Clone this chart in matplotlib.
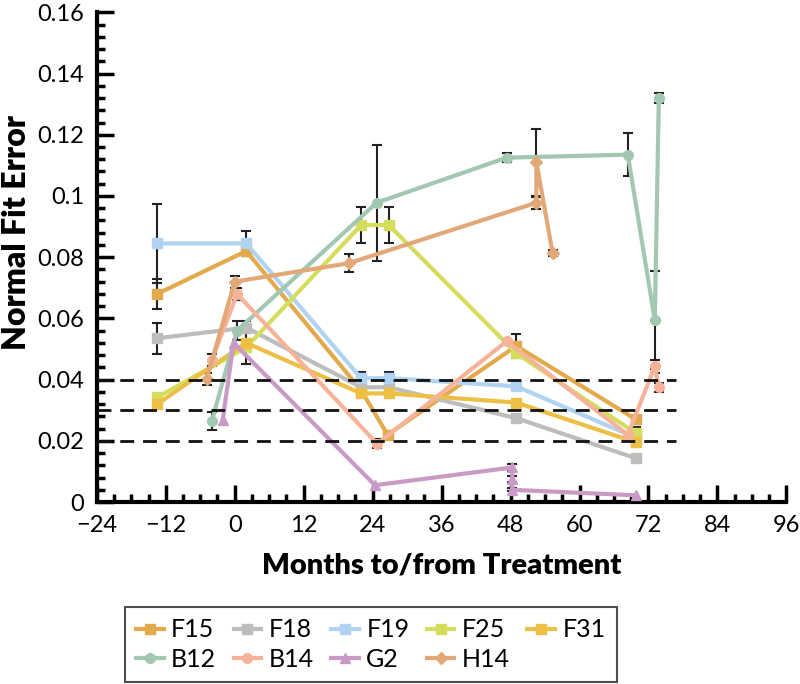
import numpy as np
import matplotlib
matplotlib.use('Agg')
import matplotlib.pyplot as plt
from matplotlib.ticker import MultipleLocator

plt.rcParams['font.family'] = ['Lato', 'DejaVu Sans']

# months to/from treatment, fit error, error bar half-width (0 = none)
f15_x = [-13.5, 2, 22, 26.6, 49, 69.8]
f15_y = [0.068, 0.082, 0.0365, 0.022, 0.051, 0.027]
f15_e = [0.005, 0, 0, 0, 0.004, 0]

f18_x = [-13.5, 2, 22, 26.8, 49, 69.8]
f18_y = [0.0535, 0.057, 0.0375, 0.0375, 0.0274, 0.0143]
f18_e = [0.005, 0, 0.002, 0.002, 0, 0]

f19_x = [-13.5, 2, 22, 26.8, 49, 69.8]
f19_y = [0.0845, 0.0845, 0.0404, 0.0405, 0.0378, 0.021]
f19_e = [0.013, 0.004, 0.002, 0.002, 0, 0]

f25_x = [-13.5, 2, 22, 26.8, 49, 69.8]
f25_y = [0.0342, 0.0505, 0.0905, 0.0905, 0.0486, 0.0225]
f25_e = [0, 0, 0.006, 0.006, 0, 0.002]

f31_x = [-13.5, 2, 22, 26.8, 49, 69.8]
f31_y = [0.032, 0.052, 0.0355, 0.0355, 0.0325, 0.0195]
f31_e = [0, 0.007, 0, 0, 0, 0]

b12_x = [-4.0, 0.4, 24.7, 47.3, 68.4, 73.1, 73.8]
b12_y = [0.0264, 0.056, 0.0978, 0.1125, 0.1135, 0.0594, 0.132]
b12_e = [0.003, 0.003, 0.019, 0.0015, 0.007, 0.016, 0.0015]

b14_x = [-4.0, 0.4, 24.8, 47.3, 68.4, 73.1, 73.8]
b14_y = [0.0463, 0.068, 0.019, 0.0525, 0.022, 0.0443, 0.0375]
b14_e = [0.002, 0.002, 0.0015, 0, 0, 0.002, 0.0015]

g2_x = [-2.1, -0.2, 24.4, 48.3, 48.3, 48.3, 69.8]
g2_y = [0.0267, 0.052, 0.0055, 0.0113, 0.0075, 0.004, 0.0022]
g2_e = [0, 0, 0, 0.001, 0.001, 0.0005, 0]

h14_x = [-4.9, 0, 19.8, 52.5, 52.5, 55.3]
h14_y = [0.0401, 0.072, 0.078, 0.0978, 0.111, 0.0815]
h14_e = [0.002, 0.002, 0.003, 0.002, 0.011, 0.001]

thresholds = [0.02, 0.03, 0.04]

series = [
    ('F15', f15_x, f15_y, f15_e, '#E2AA4C', 's'),
    ('F18', f18_x, f18_y, f18_e, '#BDBDBD', 's'),
    ('F19', f19_x, f19_y, f19_e, '#AFD3F0', 's'),
    ('F25', f25_x, f25_y, f25_e, '#D5DE5C', 's'),
    ('F31', f31_x, f31_y, f31_e, '#EEBF45', 's'),
    ('B12', b12_x, b12_y, b12_e, '#A3C8B2', 'o'),
    ('B14', b14_x, b14_y, b14_e, '#F7B29A', 'o'),
    ('G2', g2_x, g2_y, g2_e, '#C99AC6', '^'),
    ('H14', h14_x, h14_y, h14_e, '#E3A877', 'D'),
]

fig = plt.figure(figsize=(8, 6.84), dpi=100)
ax = fig.add_axes([0.121, 0.266, 0.862, 0.716])

handles = {}
for name, x, y, e, col, mk in series:
    x = np.array(x); y = np.array(y); e = np.array(e)
    ms = 6 if mk == 'D' else 7
    ln, = ax.plot(x, y, color=col, marker=mk, markersize=ms, lw=3, zorder=3, label=name)
    handles[name] = ln
    m = e > 0
    ax.errorbar(x[m], y[m], yerr=e[m], fmt='none', ecolor='#222222',
                elinewidth=1.5, capsize=3.5, capthick=1.5, zorder=2)

for t in thresholds:
    ax.plot([-24, 76.8], [t, t], color='#111111', lw=2, ls=(0, (5, 3.2)), zorder=5)

ax.set_xlim(-24, 96)
ax.set_ylim(0, 0.16)
ax.xaxis.set_minor_locator(MultipleLocator(3))
ax.yaxis.set_minor_locator(MultipleLocator(0.004))
ax.set_yticks([0, 0.02, 0.04, 0.06, 0.08, 0.1, 0.12, 0.14, 0.16])
ax.set_yticklabels(['0', '0.02', '0.04', '0.06', '0.08', '0.1', '0.12', '0.14', '0.16'])
ax.set_xticks(range(-24, 97, 12))
ax.set_xticklabels(['\u221224', '\u221212'] + [str(v) for v in range(0, 97, 12)])
ax.tick_params(which='major', direction='in', length=12, width=2.5, labelsize=17)
ax.tick_params(axis='x', which='major', pad=9)
ax.tick_params(axis='y', which='major', pad=9)
ax.tick_params(which='minor', direction='in', length=6, width=2.5)
ax.spines['top'].set_visible(False)
ax.spines['right'].set_visible(False)
ax.spines['left'].set_linewidth(3)
ax.spines['bottom'].set_linewidth(3)

ax.set_xlabel('Months to/from Treatment', fontsize=21, fontweight='heavy', labelpad=12)
fig.text(0.003, 0.66, 'Normal Fit Error', rotation=90, ha='left', va='center',
         fontsize=23, fontweight='heavy')

order = ['F15', 'B12', 'F18', 'B14', 'F19', 'G2', 'F25', 'H14', 'F31']
leg = fig.legend([handles[n] for n in order], order, ncol=5,
                 loc='lower left', bbox_to_anchor=(0.156, 0.003), borderaxespad=0,
                 fontsize=18, frameon=True, fancybox=False,
                 edgecolor='#222222', handlelength=1.1, handletextpad=0.3,
                 columnspacing=0.7, labelspacing=0.25, borderpad=0.45)
leg.get_frame().set_linewidth(1.5)

fig.savefig('out.png', dpi=100)
